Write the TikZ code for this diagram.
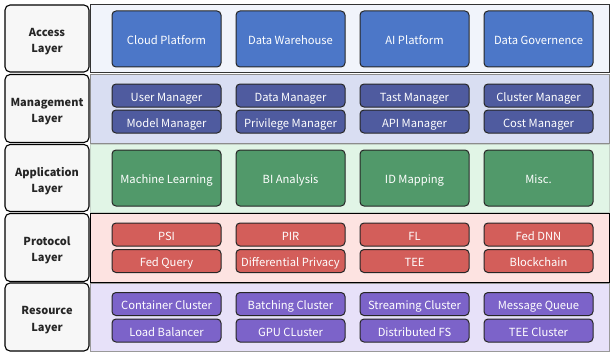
\documentclass[tikz,border=0pt]{standalone}
\usepackage{fontspec}
\setmainfont{Noto Sans CJK SC}
\begin{document}
\begin{tikzpicture}[x=1pt,y=-1pt,
  layer/.style={draw=black,line width=1.1pt,rounded corners=5pt,fill=gray!6},
  laytext/.style={font=\bfseries\fontsize{11}{16.5}\selectfont,align=center,text=black!85,yshift=-3pt},
  panel/.style={line width=1pt},
  cell/.style={draw=black!85,line width=1pt,rounded corners=4pt,text=white,
    font=\fontsize{11.2}{14}\selectfont,inner sep=0pt,text height=11.5pt,text depth=0pt}
]
\definecolor{accB}{HTML}{4C77C8}
\definecolor{mgmB}{HTML}{4F5B9F}
\definecolor{appB}{HTML}{51996A}
\definecolor{proB}{HTML}{D35E5A}
\definecolor{resB}{HTML}{7C63C9}
\definecolor{accP}{HTML}{F1F4FB}
\definecolor{mgmP}{HTML}{D9DEF2}
\definecolor{appP}{HTML}{E1F5E6}
\definecolor{proP}{HTML}{FDE3E1}
\definecolor{resP}{HTML}{E7E1F9}
\useasboundingbox (0,0) rectangle (610,353);
\fill[white] (0,0) rectangle (610,353);

% background panels of the five layers
\filldraw[panel,fill=accP,draw=black!80] (90,5) rectangle (609,72);
\filldraw[panel,fill=mgmP,draw=black!45] (90,74) rectangle (609,143);
\filldraw[panel,fill=appP,draw=appP!70!gray] (90,144) rectangle (609,212);
\filldraw[panel,fill=proP,draw=black] (90,213) rectangle (609,282);
\filldraw[panel,fill=resP,draw=black!40] (90,283) rectangle (609,351);

% layer titles on the left
\node[layer,minimum width=84pt,minimum height=67pt] (lacc) at (47,38.5) {};
\node[laytext] at (lacc) {Access\\Layer};
\node[layer,minimum width=84pt,minimum height=68pt] (lmgm) at (47,108.5) {};
\node[laytext] at (lmgm) {Management\\Layer};
\node[layer,minimum width=84pt,minimum height=67pt] (lapp) at (47,178) {};
\node[laytext] at (lapp) {Application\\Layer};
\node[layer,minimum width=84pt,minimum height=68pt] (lpro) at (47,247.5) {};
\node[laytext] at (lpro) {Protocol\\Layer};
\node[layer,minimum width=84pt,minimum height=68pt] (lres) at (47,317) {};
\node[laytext] at (lres) {Resource\\Layer};

% column centres
\def\ca{166.5}\def\cb{290.5}\def\cc{414.5}\def\cd{538.5}

% access layer
\foreach \x/\n/\t in {\ca/a1/Cloud Platform,\cb/a2/Data Warehouse,\cc/a3/AI Platform,\cd/a4/Data Governence}
  \node[cell,fill=accB,minimum width=109pt,minimum height=56pt] (\n) at (\x,39) {\t};

% management layer
\foreach \x/\n/\t in {\ca/m1/User Manager,\cb/m2/Data Manager,\cc/m3/Tast Manager,\cd/m4/Cluster Manager}
  \node[cell,fill=mgmB,minimum width=109pt,minimum height=23pt] (\n) at (\x,95.5) {\t};
\foreach \x/\n/\t in {\ca/m5/Model Manager,\cb/m6/Privilege Manager,\cc/m7/API Manager,\cd/m8/Cost Manager}
  \node[cell,fill=mgmB,minimum width=109pt,minimum height=23pt] (\n) at (\x,121.5) {\t};

% application layer
\foreach \x/\n/\t in {\ca/p1/Machine Learning,\cb/p2/BI Analysis,\cc/p3/ID Mapping,\cd/p4/Misc.}
  \node[cell,fill=appB,minimum width=109pt,minimum height=56pt] (\n) at (\x,178) {\t};

% protocol layer
\foreach \x/\n/\t in {\ca/r1/PSI,\cb/r2/PIR,\cc/r3/FL,\cd/r4/Fed DNN}
  \node[cell,fill=proB,minimum width=109pt,minimum height=23pt] (\n) at (\x,234.5) {\t};
\foreach \x/\n/\t in {\ca/r5/Fed Query,\cb/r6/Differential Privacy,\cc/r7/TEE,\cd/r8/Blockchain}
  \node[cell,fill=proB,minimum width=109pt,minimum height=23pt] (\n) at (\x,261) {\t};

% resource layer
\foreach \x/\n/\t in {\ca/s1/Container Cluster,\cb/s2/Batching Cluster,\cc/s3/Streaming Cluster,\cd/s4/Message Queue}
  \node[cell,fill=resB,minimum width=109pt,minimum height=23pt] (\n) at (\x,304) {\t};
\foreach \x/\n/\t in {\ca/s5/Load Balancer,\cb/s6/GPU CLuster,\cc/s7/Distributed FS,\cd/s8/TEE Cluster}
  \node[cell,fill=resB,minimum width=109pt,minimum height=23pt] (\n) at (\x,330.5) {\t};
\end{tikzpicture}
\end{document}
